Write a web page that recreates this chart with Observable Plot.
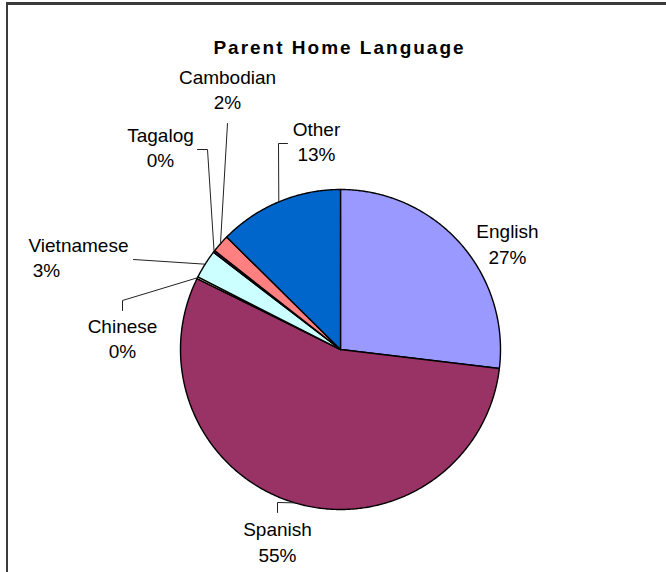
<!DOCTYPE html>
<html>
<head>
<meta charset="utf-8">
<script src="https://cdn.jsdelivr.net/npm/d3@7"></script>
<script src="https://cdn.jsdelivr.net/npm/@observablehq/plot@0.6"></script>
<style>
  html, body { margin: 0; padding: 0; background: #fff; }
  #wrap { position: relative; width: 666px; height: 572px; overflow: hidden; background: #fff; }
  #frame { position: absolute; left: 6px; top: 2px; width: 700px; height: 600px;
           border-top: 3px solid #3a3a3a; border-left: 2px solid #3a3a3a; pointer-events: none; }
  #wrap svg { position: absolute; left: 0; top: 0; }
</style>
</head>
<body>
<div id="wrap"><div id="frame"></div></div>
<script>
// ---- data ----
const title = "Parent Home Language";
const languages = ["English", "Spanish", "Chinese", "Vietnamese", "Tagalog", "Cambodian", "Other"];
const shares = [26.9, 55.4, 0.2, 2.9, 0.2, 1.8, 12.6];
const colors = ["#9999FF", "#993366", "#FFFFCC", "#CCFFFF", "#660066", "#FF8080", "#0066CC"];

// ---- layout (pixel space) ----
const pie = {cx: 340, cy: 349, r: 160};
const labelLayout = {
  English:    {name: [507, 231], pct: [507, 257], leader: null},
  Spanish:    {name: [277, 529], pct: [277, 555], leader: [[277, 512], [277, 502]]},
  Chinese:    {name: [122, 326], pct: [122, 351], leader: [[122, 310], [122, 300]]},
  Vietnamese: {name: [78, 245],  pct: [46, 270],  leader: [[133, 259]]},
  Tagalog:    {name: [160, 135], pct: [160, 160], leader: [[197, 149], [207, 149]]},
  Cambodian:  {name: [227, 77],  pct: [227, 102], leader: [[227, 123]]},
  Other:      {name: [316, 129], pct: [316, 154], leader: [[287, 143], [278, 143]]}
};

// ---- build slices from the data ----
const total = d3.sum(shares);
let acc = 0;
const slices = languages.map((name, i) => {
  const a0 = acc / total * 2 * Math.PI;
  acc += shares[i];
  const a1 = acc / total * 2 * Math.PI;
  const pts = [{x: pie.cx, y: pie.cy}];
  const n = Math.max(2, Math.ceil((a1 - a0) / (Math.PI / 360)));
  for (let k = 0; k <= n; k++) {
    const a = a0 + (a1 - a0) * k / n;
    pts.push({x: pie.cx + pie.r * Math.sin(a), y: pie.cy - pie.r * Math.cos(a)});
  }
  const am = (a0 + a1) / 2;
  return {name, color: colors[i], share: shares[i], pts,
          edge: {x: pie.cx + pie.r * Math.sin(am), y: pie.cy - pie.r * Math.cos(am)}};
});

const labelRows = [];
const leaders = [];
slices.forEach(s => {
  const L = labelLayout[s.name];
  labelRows.push({x: L.name[0], y: L.name[1], text: s.name});
  labelRows.push({x: L.pct[0], y: L.pct[1], text: Math.round(s.share / total * 100) + "%"});
  if (L.leader) {
    L.leader.forEach(p => leaders.push({id: s.name, x: p[0], y: p[1]}));
    leaders.push({id: s.name, x: s.edge.x, y: s.edge.y});
  }
});

const chart = Plot.plot({
  width: 666,
  height: 572,
  margin: 0,
  x: {domain: [0, 666], range: [0, 666], axis: null},
  y: {domain: [0, 572], range: [0, 572], axis: null},
  style: {fontFamily: "'Liberation Sans', Arial, sans-serif", background: "transparent"},
  marks: [
    ...slices.map(s => Plot.line(s.pts, {
      x: "x", y: "y", curve: "linear-closed",
      fill: s.color, stroke: "#000", strokeWidth: 1.4, strokeLinejoin: "round"
    })),
    Plot.line(leaders, {x: "x", y: "y", z: "id", stroke: "#222", strokeWidth: 1}),
    Plot.text(labelRows, {x: "x", y: "y", text: "text", fontSize: 19, fill: "#000"}),
    Plot.text([title], {frameAnchor: "top", dx: 6, dy: 47, lineAnchor: "middle",
                        fontSize: 19, fontWeight: "bold", fill: "#000", className: "ttl"})
  ]
});
document.getElementById("wrap").insertBefore(chart, document.getElementById("frame"));
chart.querySelectorAll(".ttl text").forEach(t => t.setAttribute("letter-spacing", "2"));
</script>
</body>
</html>
